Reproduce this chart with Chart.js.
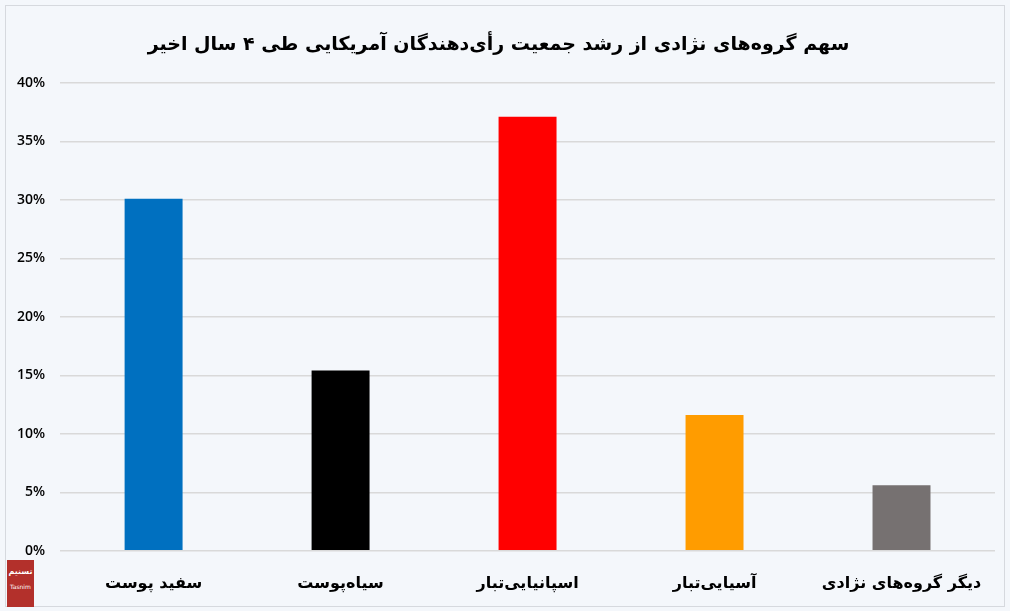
<!DOCTYPE html>
<html lang="fa">
<head>
<meta charset="utf-8">
<script src="https://cdn.jsdelivr.net/npm/chart.js@4"></script>
<style>
  html, body { margin: 0; padding: 0; background: #f4f7fb; }
  #wrap { position: relative; width: 1010px; height: 611px; overflow: hidden; }
  #frame { position: absolute; left: 5px; top: 5px; width: 998px; height: 600px; border: 1px solid #d6d9de; }
  #logo { position: absolute; left: 7px; top: 560px; width: 27px; height: 47px; background: #b3302b;
          color: #fff; font-family: 'DejaVu Sans', sans-serif; text-align: center; line-height: 1; overflow: hidden; }
  #logo .fa { font-size: 8px; font-weight: bold; padding-top: 8px; direction: rtl; }
  #logo .en { font-size: 6px; padding-top: 8px; }
  canvas { position: absolute; left: 0; top: 0; }
</style>
</head>
<body>
<div id="wrap">
  <div id="frame"></div>
  <canvas id="barChart" width="1010" height="611"></canvas>
  <div id="logo"><div class="fa">تسنیم</div><div class="en">Tasnim</div></div>
</div>
<script>
  // داده‌های نمودار
  const titleText = 'سهم گروه‌های نژادی از رشد جمعیت رأی‌دهندگان آمریکایی طی ۴ سال اخیر';
  const categories = ['سفید پوست', 'سیاه‌پوست', 'اسپانیایی‌تبار', 'آسیایی‌تبار', 'دیگر گروه‌های نژادی'];
  const shares = [30.1, 15.4, 37.1, 11.6, 5.6];
  const barColors = ['#0070c0', '#000000', '#ff0000', '#ff9c00', '#767171'];
  const yTicks = [0, 5, 10, 15, 20, 25, 30, 35, 40];

  const ctx = document.getElementById('barChart').getContext('2d');
  new Chart(ctx, {
    type: 'bar',
    data: {
      labels: categories,
      datasets: [{
        data: shares,
        backgroundColor: barColors,
        borderWidth: 0,
        categoryPercentage: 1,
        barPercentage: 0.31
      }]
    },
    options: {
      responsive: false,
      animation: false,
      layout: { padding: { left: 2, right: 15, top: 0, bottom: 3 } },
      plugins: {
        legend: { display: false },
        tooltip: { enabled: false },
        title: {
          display: true,
          text: titleText,
          color: '#000',
          font: { family: 'DejaVu Sans', size: 19, weight: 'bold' },
          padding: { top: 34, bottom: 26 }
        }
      },
      scales: {
        x: {
          grid: { display: false },
          border: { display: false },
          ticks: {
            color: '#000',
            padding: 15,
            font: { family: 'DejaVu Sans', size: 16, weight: 'bold' }
          }
        },
        y: {
          min: 0,
          max: 40,
          afterBuildTicks: function (scale) {
            scale.ticks = yTicks.map(function (v) { return { value: v }; });
          },
          grid: { color: '#d9d9d9', lineWidth: 1.5, drawTicks: false },
          border: { display: false },
          ticks: {
            color: '#000',
            padding: 15,
            font: { family: 'Open Sans', size: 14, weight: '600' },
            callback: function (v) { return v + '%'; }
          }
        }
      }
    }
  });
</script>
</body>
</html>
